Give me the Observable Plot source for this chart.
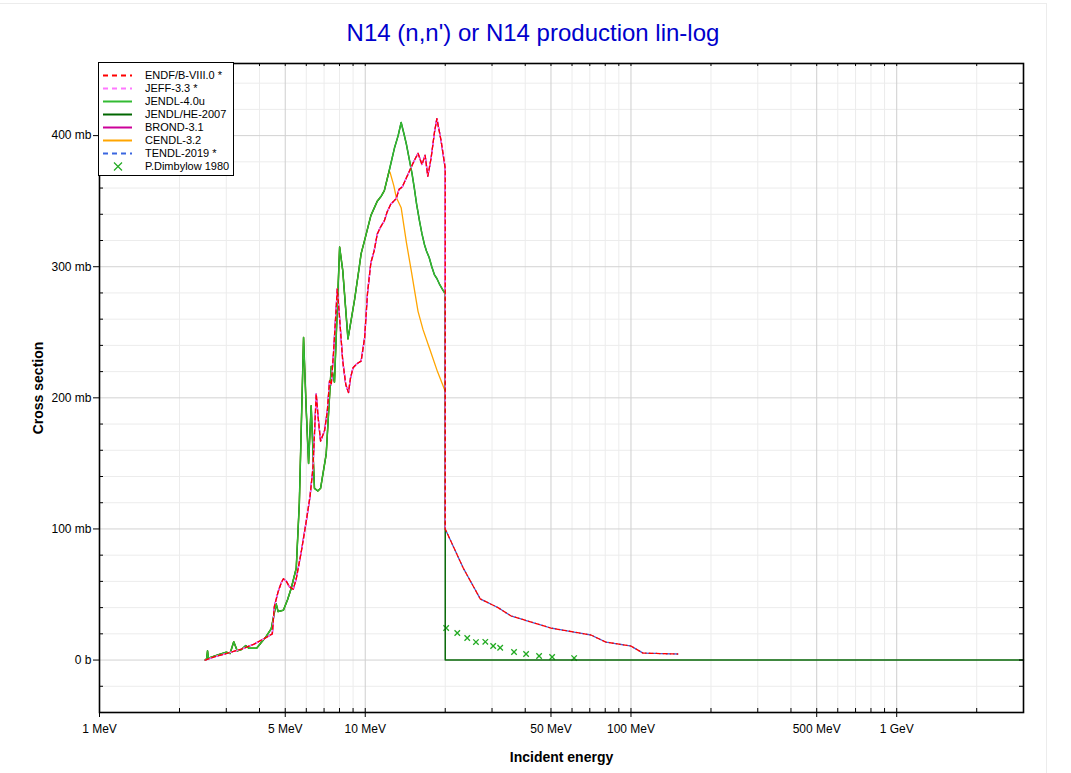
<!DOCTYPE html>
<html><head><meta charset="utf-8">
<script src="https://cdn.jsdelivr.net/npm/d3@7"></script>
<script src="https://cdn.jsdelivr.net/npm/@observablehq/plot@0.6"></script>
<style>
body{margin:0;background:#fff;font-family:"Liberation Sans",Arial,sans-serif;}
#wrap{position:relative;width:1071px;height:773px;overflow:hidden;background:#fff;}
#border{position:absolute;left:-1px;top:3px;width:1046px;height:800px;border:1px solid #ececec;}
#title{position:absolute;left:0;top:21px;width:1066px;text-align:center;font-size:24px;line-height:24px;color:#0000cc;}
#chart{position:absolute;left:0;top:50px;}
#legend{position:absolute;left:98px;top:62px;width:136px;height:114px;box-sizing:border-box;background:#fff;border:1px solid #000;font-size:11px;}
.row{position:absolute;left:0;height:13px;width:130px;}
.row svg{position:absolute;left:3px;top:0;}
.row span{position:absolute;left:46px;top:0;line-height:13px;white-space:nowrap;color:#000;}
</style></head>
<body>
<div id="wrap">
  <div id="border"></div>
  <div id="title">N14 (n,n') or N14 production lin-log</div>
  <div id="chart"></div>
  <div id="legend"></div>
</div>
<script>
// ---- data (energy in MeV, cross section in mb) ----
const commonBelow20 = [
  [2.50,0],[2.7,2.5],[3.0,5],[3.42,8.4],[3.8,12],[4.14,16],[4.47,20],[4.55,41],[4.70,52],
  [4.83,59],[4.92,62],[5.05,60],[5.18,56],[5.36,54],[5.50,62],[5.75,83],[6.0,106],[6.2,125],
  [6.36,147],[6.54,203],[6.65,185],[6.79,167],[7.03,175],[7.20,190],[7.34,213],[7.45,210],
  [7.6,235],[7.85,283],[8.0,262],[8.23,228],[8.45,210],[8.65,204],[8.8,215],[9.0,223],
  [9.3,226],[9.65,228],[9.95,246],[10.2,280],[10.5,303],[10.8,312],[11.1,325],[11.4,330],
  [11.8,335],[12.1,342],[12.5,348],[12.8,350],[13.08,352],[13.4,359],[13.8,361],[14.3,368],
  [14.9,376],[15.3,381],[15.8,386.5],[16.35,378],[16.8,385],[17.2,369],[17.7,383],
  [18.2,402],[18.6,413],[19.3,396],[20.0,375],[20.0,100]
];
const tailAbove20 = [
  [23.4,70],[27.1,46.6],[31.6,40],[35.4,33.6],[50,24.4],[70.7,19.1],[80.5,13.7],
  [100,10.7],[111,5.3],[150,4.6]
];
const jendl40 = [
  [2.50,0],[2.53,1],[2.55,7],[2.57,1.5],[2.8,4],[3.0,6],[3.1,5],[3.2,14],[3.3,7],[3.42,8],
  [3.55,11],[3.65,9],[3.9,9],[4.24,18],[4.43,24],[4.62,43],[4.70,37],[4.92,38],[5.10,46],
  [5.27,55],[5.5,70],[5.65,120],[5.86,246],[6.0,190],[6.12,150],[6.26,194],[6.44,131],
  [6.63,129],[6.79,131],[7.13,157],[7.45,224],[7.66,212],[8.01,315],[8.23,297],[8.61,245],
  [9.12,275],[9.5,300],[9.65,310],[10.0,322],[10.5,339],[11.1,350],[11.5,354],[11.8,358],
  [12.3,373],[12.9,391],[13.3,400],[13.65,410],[14.0,401],[14.3,393],[14.68,381],[15.0,371],
  [15.3,360],[15.6,348],[16.0,335],[16.35,325],[16.7,317],[17.0,312],[17.4,307],[17.8,300],
  [18.2,294],[18.6,291],[19.0,287],[19.5,283],[19.9,280],[20.0,276]
];
const jendlHeAbove20 = [[20.0,0],[3000,0]];
const cendlBranch = [
  [12.4,372],[12.8,362],[13.08,353],[13.65,345],[14.3,318],[14.9,297],[15.8,266],[16.5,252],
  [17.5,237],[18.7,220],[20.0,205]
];
const dimbylow = [
  [20.16,24.4],[22.2,20.6],[24.2,16.8],[26.1,13.7],[28.3,13.9],[30.3,10.7],[32.2,9.4],
  [36.3,6.1],[40.3,4.6],[45.1,3.1],[50.5,2.3],[61.1,1.5]
];
// ---- ticks & grid ----
const xTickValues = [1,5,10,50,100,500,1000];
const xTickLabels = ["1 MeV","5 MeV","10 MeV","50 MeV","100 MeV","500 MeV","1 GeV"];
const xMinorGrid = [2,3,4,6,7,8,9,20,30,40,60,70,80,90,200,300,400,600,700,800,900,2000];
const yTickValues = [0,100,200,300,400];
const yTickLabels = ["0 b","100 mb","200 mb","300 mb","400 mb"];
const yMinorGrid = [-20,20,40,60,80,120,140,160,180,220,240,260,280,320,340,360,380,420,440];
const xTitle = "Incident energy";
const yTitle = "Cross section";
// ---- legend ----
const legendNames = ["ENDF/B-VIII.0 *","JEFF-3.3 *","JENDL-4.0u","JENDL/HE-2007","BROND-3.1","CENDL-3.2","TENDL-2019 *","P.Dimbylow 1980"];
const legendColors = ["#ff0000","#ff77ff","#33bb33","#006600","#cc0099","#ffa500","#3a66e0","#22aa22"];
const legendDashed = [true,true,false,false,false,false,true,null];

// ---- build series ----
const endf = commonBelow20.concat(tailAbove20);
const tendl = commonBelow20.concat(tailAbove20);
const jeff = commonBelow20;
const brond = commonBelow20;
const jendlHe = jendl40.concat(jendlHeAbove20);
const cendl = jendl40.filter(d => d[0] <= 12.3).concat(cendlBranch);

const W = 1071, H = 723, mL = 99, mR = 48, mT = 13, mB = 61;
const pw = W - mL - mR, ph = H - mT - mB;
const allXGrid = xTickValues.concat(xMinorGrid);
const allYGrid = yTickValues.concat(yMinorGrid);
const ln = (data, color, dash, extra={}) => Plot.line(data, {x: d => d[0], y: d => d[1], stroke: color, strokeWidth: 1.3, strokeDasharray: dash, ...extra});

const chart = Plot.plot({
  width: W, height: H, marginLeft: mL, marginRight: mR, marginTop: mT, marginBottom: mB,
  style: {fontFamily: "'Liberation Sans', Arial, sans-serif", fontSize: "12px", color: "#000", background: "transparent"},
  x: {type: "log", domain: [1, 3000]},
  y: {domain: [-40, 455]},
  marks: [
    Plot.ruleX(xMinorGrid, {x: d => d, stroke: "#ececec", strokeWidth: 1}),
    Plot.ruleY(yMinorGrid, {y: d => d, stroke: "#ececec", strokeWidth: 1}),
    Plot.ruleX(xTickValues, {x: d => d, stroke: "#cfcfcf", strokeWidth: 1}),
    Plot.ruleY(yTickValues, {y: d => d, stroke: "#d2d2d2", strokeWidth: 1}),
    Plot.dot(dimbylow, {x: d => d[0], y: d => d[1], symbol: "times", r: 2.6, stroke: "#22aa22", strokeWidth: 1.3}),
    ln(tendl, "#3a66e0", "4,3", {strokeDashoffset: 3.5}),
    ln(cendl, "#ffa500", null),
    ln(brond, "#cc0099", null),
    ln(jendlHe, "#0a6a0a", null, {strokeWidth: 1.5}),
    ln(jendl40, "#33bb33", null),
    ln(jeff, "#ff77ff", "4,3", {strokeDashoffset: 3.5}),
    ln(endf, "#ff0000", "4,3"),
    Plot.frame({stroke: "#000", strokeWidth: 1.6}),
    Plot.ruleX(allXGrid, {x: d => d, insetTop: ph - 4, stroke: "#000"}),
    Plot.ruleX(allXGrid, {x: d => d, insetBottom: ph - 3, stroke: "#000"}),
    Plot.ruleY(yMinorGrid.concat([-40]), {y: d => d, insetRight: pw - 4, stroke: "#000"}),
    Plot.ruleY(allYGrid, {y: d => d, insetLeft: pw - 4, stroke: "#000"}),
    Plot.axisX({ticks: xTickValues, text: null, tickSize: 5, label: null}),
    Plot.axisY({ticks: yTickValues, text: null, tickSize: 6, label: null}),
    Plot.text(xTickValues, {x: d => d, text: (d, i) => xTickLabels[i], frameAnchor: "bottom", lineAnchor: "top", textAnchor: "middle", dy: 12, fontSize: 12, fill: "#000"}),
    Plot.text(yTickValues, {y: d => d, text: (d, i) => yTickLabels[i], frameAnchor: "left", lineAnchor: "middle", textAnchor: "end", dx: -8, fontSize: 12, fill: "#000"}),
    Plot.text([xTitle], {text: d => d, frameAnchor: "bottom", lineAnchor: "middle", textAnchor: "middle", dy: 45, fontWeight: "bold", fontSize: 14}),
    Plot.text([yTitle], {text: d => d, frameAnchor: "left", lineAnchor: "middle", textAnchor: "middle", dx: -61, rotate: -90, fontWeight: "bold", fontSize: 14})
  ]
});
document.getElementById("chart").appendChild(chart);

// legend
const lg = document.getElementById("legend");
legendNames.forEach((name, i) => {
  const row = document.createElement("div");
  row.className = "row";
  row.style.top = (6 + 13 * i) + "px";
  let sample;
  if (legendDashed[i] === null) {
    sample = `<svg width="32" height="13"><path d="M12,2.5L20,10.5M20,2.5L12,10.5" stroke="${legendColors[i]}" stroke-width="1.2"/></svg>`;
  } else {
    sample = `<svg width="32" height="13"><line x1="1" x2="30" y1="6.5" y2="6.5" stroke="${legendColors[i]}" stroke-width="2" ${legendDashed[i] ? 'stroke-dasharray="5,4"' : ''}/></svg>`;
  }
  row.innerHTML = sample + `<span>${name}</span>`;
  lg.appendChild(row);
});
</script>
</body></html>
